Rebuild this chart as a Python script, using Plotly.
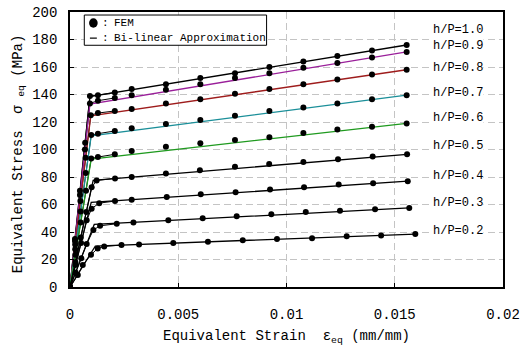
import plotly.graph_objects as go

# ---- data -----------------------------------------------------------------
ratios = ["1.0", "0.9", "0.8", "0.7", "0.6", "0.5", "0.4", "0.3", "0.2"]

# FEM results: equivalent strain (mm/mm) and equivalent stress (MPa)
fem_eps_10 = [0, 0.00023, 0.00046, 0.0007, 0.00092, 0.00129, 0.00207, 0.00285, 0.00443, 0.00602, 0.00762, 0.00921, 0.01078, 0.01235, 0.01395, 0.01555]
fem_sig_10 = [0, 35, 70, 105, 139, 139.5, 141.5, 144, 147.5, 152, 155.5, 160, 164, 168, 172, 176]
fem_eps_09 = [0, 0.00023, 0.00046, 0.00069, 0.00092, 0.00129, 0.00207, 0.00285, 0.00443, 0.00602, 0.00762, 0.00921, 0.01078, 0.01235, 0.01395, 0.01555]
fem_sig_09 = [0, 33.5, 67, 100, 133.5, 135.5, 137.5, 139.5, 143.5, 147.5, 152, 155.5, 159.5, 163, 167, 171]
fem_eps_08 = [0, 0.00024, 0.00048, 0.00072, 0.00096, 0.00129, 0.00207, 0.00285, 0.00443, 0.00602, 0.00762, 0.00921, 0.01078, 0.01235, 0.01395, 0.01555]
fem_sig_08 = [0, 31, 62.5, 94, 125, 126.5, 128, 129.5, 133.5, 136.5, 140.5, 144, 147.5, 151, 154.5, 158]
fem_eps_07 = [0, 0.00024, 0.00049, 0.00073, 0.00098, 0.00129, 0.00207, 0.00285, 0.00443, 0.00602, 0.00762, 0.00921, 0.01078, 0.01235, 0.01395, 0.01555]
fem_sig_07 = [0, 27.5, 55, 83, 110.5, 111.5, 113.5, 115.5, 118.5, 121.5, 124.5, 128, 130.5, 133.5, 136.5, 139.5]
fem_eps_06 = [0, 0.00025, 0.00049, 0.00074, 0.00098, 0.00129, 0.00207, 0.00285, 0.00443, 0.00602, 0.00762, 0.00921, 0.01078, 0.01235, 0.01395, 0.01555]
fem_sig_06 = [0, 23.5, 47, 70, 93.5, 94.5, 96.5, 99, 102, 104.5, 107, 109, 112, 114.5, 116.5, 119]
fem_eps_05 = [0, 0.00025, 0.0005, 0.00075, 0.0010, 0.00123, 0.00208, 0.00285, 0.00443, 0.0060, 0.00762, 0.0092, 0.01078, 0.01238, 0.01398, 0.01557]
fem_sig_05 = [0, 18, 36, 54.5, 72.5, 77.5, 79, 80, 82.5, 85, 87.5, 89.5, 91, 93, 95, 96.5]
fem_eps_04 = [0, 0.00025, 0.00051, 0.00077, 0.0010, 0.00135, 0.00208, 0.00285, 0.00447, 0.00604, 0.00765, 0.00924, 0.01081, 0.01241, 0.0140, 0.0156]
fem_sig_04 = [0, 16, 32, 48.5, 57, 61, 62.5, 63.5, 65.5, 67.5, 69, 71, 72.5, 74.5, 75.5, 77]
fem_eps_03 = [0, 0.00026, 0.00052, 0.00077, 0.00108, 0.00139, 0.00216, 0.00293, 0.00454, 0.00613, 0.0077, 0.0093, 0.01089, 0.01247, 0.01409, 0.01567]
fem_sig_03 = [0, 10.5, 21, 31.3, 41.5, 44.5, 46, 47, 48.5, 50, 51.5, 53, 54.5, 55.5, 56.5, 57.5]
fem_eps_02 = [0, 0.00036, 0.00059, 0.00097, 0.00128, 0.00158, 0.00238, 0.00319, 0.00477, 0.00637, 0.00798, 0.00956, 0.01118, 0.01278, 0.01437, 0.01595]
fem_sig_02 = [0, 8.7, 16, 23.5, 28, 29.5, 30.5, 31, 32, 33, 34, 35, 35.5, 37, 37.5, 38.5]

# Bi-linear approximation: yield point and end point of each curve
bl_yield_eps = [0.00092, 0.00092, 0.00096, 0.00098, 0.00098, 0.00107, 0.00098, 0.00112, 0.00117]
bl_yield_sig = [138.5, 133, 124.5, 110, 93, 77.6, 61.5, 45.5, 29.8]
bl_end_eps = [0.01555, 0.01555, 0.01555, 0.01555, 0.01555, 0.01557, 0.0156, 0.01567, 0.01595]
bl_end_sig = [176, 171, 158, 139.5, 119, 96.5, 77, 57.5, 38.5]

x_ticks = [0, 0.005, 0.01, 0.015, 0.02]
x_tick_text = ["0", "0.005", "0.01", "0.015", "0.02"]
y_ticks = [0, 20, 40, 60, 80, 100, 120, 140, 160, 180, 200]

# ---- styling ----------------------------------------------------------------
bl_colors = ["#000000", "#9a1f9a", "#9e1c1c", "#1b8f99", "#1f9a1f",
             "#000000", "#000000", "#000000", "#000000"]
label_heights = [186.9, 175.5, 159.5, 141.3, 122.7, 102.5, 80.7, 61.3, 40.7]
FONT = "Liberation Mono, DejaVu Sans Mono, monospace"
KNEE_POINTS = 7   # FEM path drawn through the elastic range and the knee

fem_eps = [fem_eps_10, fem_eps_09, fem_eps_08, fem_eps_07, fem_eps_06,
           fem_eps_05, fem_eps_04, fem_eps_03, fem_eps_02]
fem_sig = [fem_sig_10, fem_sig_09, fem_sig_08, fem_sig_07, fem_sig_06,
           fem_sig_05, fem_sig_04, fem_sig_03, fem_sig_02]

fig = go.Figure()

# FEM paths through the elastic region and knee (thin black)
for e, s in zip(fem_eps, fem_sig):
    fig.add_trace(go.Scatter(x=e[:KNEE_POINTS], y=s[:KNEE_POINTS], mode="lines",
                             line=dict(color="black", width=1),
                             showlegend=False, hoverinfo="skip"))

# Bi-linear approximations
for i in range(len(ratios)):
    fig.add_trace(go.Scatter(
        x=[0, bl_yield_eps[i], bl_end_eps[i]],
        y=[0, bl_yield_sig[i], bl_end_sig[i]],
        mode="lines", line=dict(color=bl_colors[i], width=1.3),
        showlegend=False, hoverinfo="skip"))

# FEM points
for e, s in zip(fem_eps, fem_sig):
    fig.add_trace(go.Scatter(x=e, y=s, mode="markers",
                             marker=dict(color="black", size=6),
                             showlegend=False))

annotations = []
for i, r in enumerate(ratios):
    annotations.append(dict(
        x=0.01672, y=label_heights[i], xref="x", yref="y",
        text=f"h/P={r}", showarrow=False, xanchor="left", yanchor="middle",
        font=dict(family=FONT, size=12, color="black"),
        bgcolor="white", borderpad=0))

# axis titles
annotations.append(dict(
    x=0.5, y=-0.18, xref="paper", yref="paper",
    text="Equivalent Strain  ε<sub>eq</sub> (mm/mm)", showarrow=False,
    xanchor="center", yanchor="middle",
    font=dict(family=FONT, size=14, color="black")))
annotations.append(dict(
    x=-0.118, y=0.486, xref="paper", yref="paper", textangle=-90,
    text="Equivalent Stress  σ <sub>eq</sub> (MPa)", showarrow=False,
    xanchor="center", yanchor="middle",
    font=dict(family=FONT, size=14, color="black")))

# legend box content
annotations.append(dict(
    x=0.083, y=0.960, xref="paper", yref="paper", text=":", showarrow=False,
    xanchor="center", yanchor="middle",
    font=dict(family=FONT, size=11, color="black")))
annotations.append(dict(
    x=0.098, y=0.960, xref="paper", yref="paper", text="FEM", showarrow=False,
    xanchor="left", yanchor="middle",
    font=dict(family=FONT, size=11, color="black")))
annotations.append(dict(
    x=0.083, y=0.905, xref="paper", yref="paper", text=":", showarrow=False,
    xanchor="center", yanchor="middle",
    font=dict(family=FONT, size=11, color="black")))
annotations.append(dict(
    x=0.098, y=0.905, xref="paper", yref="paper",
    text="Bi-linear Approximation", showarrow=False,
    xanchor="left", yanchor="middle",
    font=dict(family=FONT, size=11, color="black")))

shapes = [
    dict(type="rect", xref="paper", yref="paper",
         x0=0.033, x1=0.454, y0=0.879, y1=0.989,
         line=dict(color="black", width=1), fillcolor="white", layer="above"),
    dict(type="circle", xref="paper", yref="paper",
         x0=0.044, x1=0.064, y0=0.943, y1=0.977,
         line=dict(color="black", width=0), fillcolor="black", layer="above"),
    dict(type="line", xref="paper", yref="paper",
         x0=0.046, x1=0.062, y0=0.905, y1=0.905,
         line=dict(color="black", width=1.2), layer="above"),
]

axis_common = dict(
    showline=True, mirror=True, linecolor="black", linewidth=1.5,
    ticks="inside", ticklen=4, tickcolor="black",
    showgrid=True, gridcolor="#c4c4c4", gridwidth=1, griddash="7px,4px",
    zeroline=False, automargin=False,
    tickfont=dict(family=FONT, size=14, color="black"),
)

fig.update_layout(
    width=520, height=345,
    margin=dict(l=70, r=17, t=12, b=58),
    paper_bgcolor="white", plot_bgcolor="white",
    xaxis=dict(range=[0, 0.02], tickvals=x_ticks, ticktext=x_tick_text,
               ticklabelstandoff=13, **axis_common),
    yaxis=dict(range=[0, 200], tickvals=y_ticks, ticklabelstandoff=8, **axis_common),
    annotations=annotations, shapes=shapes,
    showlegend=False,
)

fig.write_html("out.html")
